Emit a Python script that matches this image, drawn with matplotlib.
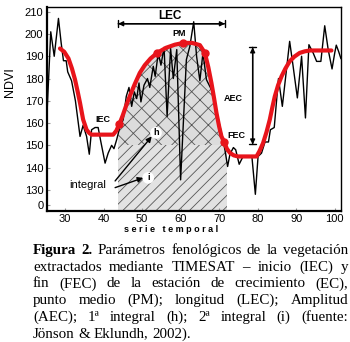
import numpy as np
import matplotlib
matplotlib.use("Agg")
import matplotlib.pyplot as plt

# serie NDVI original
t_raw = [25.4, 26.3, 27.2, 28.3, 29.0, 29.6, 30.3, 30.7, 31.7, 32.7,
         33.9, 34.7, 35.6, 36.3, 36.9, 37.8, 38.6, 39.2, 40.4, 41.2,
         42.1, 42.7, 43.4, 44.2, 45.1, 45.9, 46.6, 47.3, 48.0, 48.6,
         49.2, 49.7, 50.5, 51.4, 52.0, 52.9, 53.4, 54.2, 54.9, 55.7,
         56.5, 57.4, 58.1, 59.0, 60.0, 61.5, 62.4, 63.4, 64.15, 65.0,
         65.8, 66.7, 68.0, 69.5, 70.6, 71.5, 72.2, 72.8, 73.7, 74.3,
         75.2, 76.2, 77.5, 78.5, 79.4, 80.1, 81.0, 81.9, 82.8, 83.3,
         84.3, 85.4, 86.4, 88.3, 89.2, 90.3, 91.4, 92.4, 93.3, 94.4,
         95.3, 96.4, 97.4, 98.3, 99.3, 100.0, 100.4, 101.0, 101.6]
ndvi_raw = [167, 201, 190, 207, 196, 188, 188, 183, 179, 170,
            154, 159, 154, 146, 157, 158, 158, 152.5, 142, 146.5,
            150, 148.5, 152.5, 158, 161.5, 172, 176, 167.5, 174, 171,
            178, 169.5, 177, 180, 176, 185.5, 181, 191.5, 186, 194,
            163, 193.5, 180, 193, 134.5, 188.5, 194.5, 205.5, 190, 179,
            191.5, 179.5, 175, 164, 155.5, 148, 140.5, 146, 149, 148,
            141.5, 145, 145, 145, 128, 145, 146.5, 151.5, 151.5, 157,
            158, 180, 167.5, 196.7, 185.5, 171.3, 190, 162.3, 195.2, 191.5,
            187.7, 187.7, 203.7, 193, 184.3, 191.5, 195, 192.2, 189]

# curva ajustada (TIMESAT)
t_fit = [28.7, 29.8, 30.9, 31.8, 32.6, 33.3, 33.9, 34.7, 35.6, 36.3,
         36.9, 42.5, 43.3, 44.1, 45.0, 45.9, 46.9, 48.1, 49.4, 50.7,
         52.2, 53.9, 56.2, 58.5, 60.7, 63.0, 65.0, 66.3, 67.2, 68.0,
         68.7, 69.3, 70.0, 70.6, 71.3, 72.0, 72.8, 73.8, 74.9, 79.7,
         80.5, 81.4, 82.3, 83.15, 83.8, 84.45, 85.3, 86.2, 87.2, 88.3,
         89.5, 90.9, 92.2, 93.5, 99.15]
ndvi_fit = [193.5, 192, 189, 184.5, 179.5, 174, 169, 161.6, 157, 155.5,
            154.8, 154.8, 156.5, 159.5, 163.5, 168, 172.5, 177.5, 182.5, 186,
            189, 191.5, 193.8, 195.2, 196, 196, 195, 191.5, 185, 178,
            171, 164.6, 158.5, 154, 151.5, 148.5, 146.6, 145.5, 145, 145,
            147.5, 151, 156, 161.6, 167, 172, 177, 181, 184.5, 187.7,
            189.8, 191.5, 192.2, 192.6, 192.6]

# puntos marcados sobre la curva
t_marks = [44.1, 53.9, 60.7, 66.3, 71.3]
ndvi_marks = [159.5, 191.5, 196, 191.5, 151.5]

t_iec, t_fec = 43.8, 72.1
base_level = 150
ymin = 120.5

xticks = [30, 40, 50, 60, 70, 80, 90, 100]
yticks = [123, 130, 140, 150, 160, 170, 180, 190, 200, 210]
ytick_labels = ["0", "130", "140", "150", "160", "170", "180", "190", "200", "210"]

caption_lines = [
    [("Figura", "bold"), ("2.", "bold"), ("Parámetros", "normal"), ("fenológicos", "normal"),
     ("de", "normal"), ("la", "normal"), ("vegetación", "normal")],
    "extractados mediante TIMESAT – inicio (IEC) y",
    "fin (FEC) de la estación de crecimiento (EC),",
    "punto medio (PM); longitud (LEC); Amplitud",
    "(AEC); 1ª integral (h); 2ª integral (i) (fuente:",
    "Jönson & Eklundh, 2002).",
]

plt.rcParams['font.family'] = ['Liberation Sans', 'DejaVu Sans']
plt.rcParams['hatch.linewidth'] = 0.6

fig = plt.figure(figsize=(3.5, 3.42), dpi=100)
ax = fig.add_axes([0.134, 0.383, 0.840, 0.597])

# areas integrales
t_fit_a = np.array(t_fit)
y_fit_a = np.array(ndvi_fit)
inside = (t_fit_a > t_iec) & (t_fit_a < t_fec)
xs = np.concatenate([[t_iec], t_fit_a[inside], [t_fec]])
ys = np.concatenate([[np.interp(t_iec, t_fit, ndvi_fit)], y_fit_a[inside],
                     [np.interp(t_fec, t_fit, ndvi_fit)]])
ys = np.maximum(ys, base_level)
ax.fill_between(xs, base_level, ys, facecolor='#dcdcdc', edgecolor='#555555',
                hatch='xx', linewidth=0, zorder=1)
ax.fill_between([t_iec, t_fec], ymin, base_level, facecolor='#e2e2e2',
                edgecolor='#555555', hatch='///', linewidth=0, zorder=1)

ax.plot(t_raw, ndvi_raw, color='black', lw=1.0, zorder=3)
ax.plot(t_fit, ndvi_fit, color='#e8141b', lw=3, solid_capstyle='round', zorder=4)
ax.plot(t_marks, ndvi_marks, 'o', color='#e8141b', ms=5, zorder=5)

# LEC
ax.annotate('', xy=(t_iec, 204.6), xytext=(71.5, 204.6),
            arrowprops=dict(arrowstyle='<|-|>', color='black', lw=1, mutation_scale=7,
                            shrinkA=0, shrinkB=0), zorder=6)
ax.annotate('', xy=(t_iec, 204.6), xytext=(71.5, 204.6),
            arrowprops=dict(arrowstyle='|-|,widthA=0.25,widthB=0.25', color='black', lw=1,
                            shrinkA=0, shrinkB=0), zorder=6)
ax.text(57.3, 208.3, 'LEC', fontsize=8.5, fontweight='bold', ha='center', va='center')

# AEC
ax.annotate('', xy=(78.7, 194), xytext=(78.7, 150.4),
            arrowprops=dict(arrowstyle='<|-|>', color='black', lw=1, mutation_scale=7,
                            shrinkA=0, shrinkB=0), zorder=6)
ax.annotate('', xy=(78.7, 194), xytext=(78.7, 150.4),
            arrowprops=dict(arrowstyle='|-|,widthA=0.25,widthB=0.25', color='black', lw=1,
                            shrinkA=0, shrinkB=0), zorder=6)
ax.text(73.6, 171, 'AEC', fontsize=6.5, fontweight='bold', ha='center', va='center')
ax.text(72.2, 154.3, 'FEC', fontsize=6.5, fontweight='bold', ha='left', va='center', zorder=6)
ax.text(39.9, 161.6, 'IEC', fontsize=6.5, fontweight='bold', ha='center', va='center')
ax.text(59.6, 200.4, 'PM', fontsize=6.5, fontweight='bold', ha='center', va='center')

# integrales
ax.text(53.6, 155.6, 'h', fontsize=6.5, fontweight='bold', ha='center', va='center', zorder=7,
        bbox=dict(boxstyle='circle,pad=0.15', fc='white', ec='none'))
ax.text(51.6, 135.4, 'i', fontsize=6.5, fontweight='bold', ha='center', va='center', zorder=7,
        bbox=dict(boxstyle='circle,pad=0.15', fc='white', ec='none'))
ax.text(36.0, 132.4, 'integral', fontsize=8, ha='center', va='center', zorder=7)
ax.annotate('', xy=(52.5, 154), xytext=(43.0, 134),
            arrowprops=dict(arrowstyle='-|>', color='black', lw=1, mutation_scale=8,
                            shrinkA=0, shrinkB=0), zorder=7)
ax.annotate('', xy=(50.3, 135.4), xytext=(43.0, 131),
            arrowprops=dict(arrowstyle='-|>', color='black', lw=1, mutation_scale=8,
                            shrinkA=0, shrinkB=0), zorder=7)

ax.set_xlim(25.3, 101.6)
ax.set_ylim(ymin, 212.2)
ax.set_xticks(xticks)
ax.set_yticks(yticks)
ax.set_yticklabels(ytick_labels)
ax.tick_params(direction='in', length=2, labelsize=8, pad=2.5, color='#999999')
ax.spines['left'].set_linewidth(1.6)
ax.spines['bottom'].set_linewidth(1.6)
ax.spines['top'].set_linewidth(1.0)
ax.spines['right'].set_linewidth(1.0)

fig.text(10 / 350, 1 - 82 / 342, 'NDVI', rotation=90, fontsize=9, ha='center', va='center')
fig.text(171 / 350, 1 - 230 / 342, 's e r i e   t e m p o r a l', fontsize=6.5,
         fontweight='bold', ha='center', va='center')

# pie de figura justificado
fig.canvas.draw()
renderer = fig.canvas.get_renderer()
cap_size = 10.8
x_left, x_right = 33, 348
line_y = [250.5, 267.2, 283.9, 300.6, 317.3, 334]
for i, line in enumerate(caption_lines):
    if isinstance(line, str):
        words = [(w, "normal") for w in line.split(" ")]
    else:
        words = line
    y = 1 - line_y[i] / 342
    objs = [fig.text(0, y, w, fontsize=cap_size, fontweight=wt, family='Liberation Serif',
                     ha='left', va='center') for w, wt in words]
    widths = [o.get_window_extent(renderer).width for o in objs]
    if i < len(caption_lines) - 1:
        gap = (x_right - x_left - sum(widths)) / (len(objs) - 1)
    else:
        gap = renderer.points_to_pixels(cap_size) * 0.25
    pos = x_left
    for o, w in zip(objs, widths):
        o.set_x(pos / 350)
        pos += w + gap

fig.savefig('out.png', dpi=100)
